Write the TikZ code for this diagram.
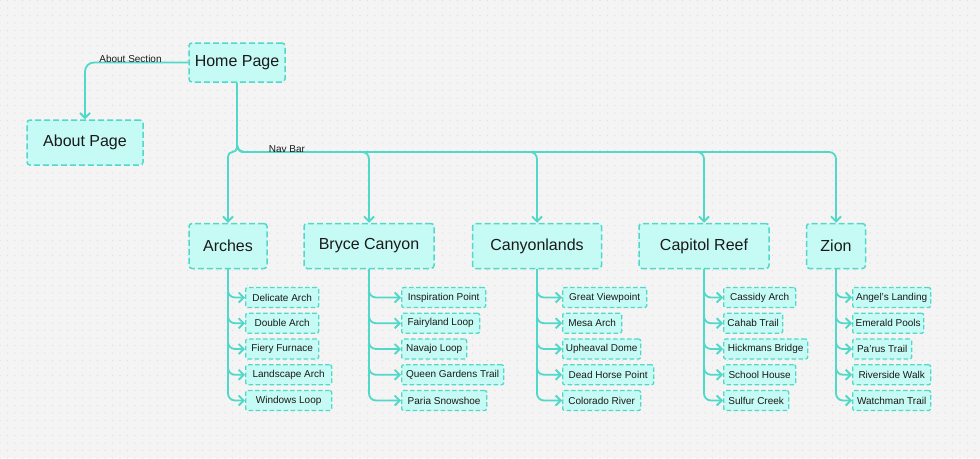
\documentclass[tikz,border=0pt]{standalone}
\usepackage{fontspec}
\setmainfont{Liberation Sans}
\usetikzlibrary{arrows.meta,patterns.meta}
\definecolor{bg}{HTML}{F4F4F4}
\definecolor{dotc}{HTML}{DCDCDC}
\definecolor{teal1}{HTML}{4FD9C8}
\definecolor{boxfill}{HTML}{C6FAF4}
\definecolor{txt}{HTML}{1A1A1A}
\tikzset{
  boxbase/.style={draw=teal1, line width=1.5pt, dash pattern=on 6pt off 3pt, fill=boxfill, rounded corners=3pt, inner sep=0pt, text=txt},
  big/.style={boxbase, font=\fontsize{16}{19}\selectfont},
  leaf/.style={boxbase, line width=1.3pt, dash pattern=on 4.5pt off 2.5pt, rounded corners=2pt, minimum height=20pt, anchor=west, font=\fontsize{10}{12}\selectfont},
  conn/.style={draw=teal1, line width=1.8pt, -{Straight Barb[length=5pt,width=10pt]}},
  lbl/.style={font=\fontsize{10}{12}\selectfont, text=txt, inner sep=0pt},
}
\begin{document}
\begin{tikzpicture}[x=1pt,y=-1pt]
\fill[bg] (0,0) rectangle (980,458);
\fill[pattern={Dots[distance=7.5pt,radius=0.55pt]}, pattern color=dotc] (0,0) rectangle (980,458);
\useasboundingbox (0,0) rectangle (980,458);

% main nodes
\node[big, minimum width=96pt, minimum height=39pt] (home) at (237,62.5) {Home Page};
\node[big, minimum width=116pt, minimum height=45pt] (about) at (85,142.5) {About Page};
\node[big, minimum width=78pt, minimum height=45pt] (arches) at (228,246) {Arches};
\node[big, minimum width=130pt, minimum height=45pt] (bryce) at (369,246) {Bryce Canyon};
\node[big, minimum width=129pt, minimum height=45pt] (canyon) at (537,246) {Canyonlands};
\node[big, minimum width=130pt, minimum height=45pt] (capitol) at (704,246) {Capitol Reef};
\node[big, minimum width=59pt, minimum height=45pt] (zion) at (836,246) {Zion};

\coordinate (nav) at (237,152);

% about connector
\draw[conn, rounded corners=9pt] (home.west) -| (about.north);
\node[lbl] (lblabout) at (130.5,59) {About Section};

% nav connectors
\draw[conn, rounded corners=4.5pt] (home.south) -- (nav) -| (arches.north);
\draw[conn, rounded corners=7pt] (home.south) -- (nav) -| (bryce.north);
\draw[conn, rounded corners=7pt] (home.south) -- (nav) -| (canyon.north);
\draw[conn, rounded corners=7pt] (home.south) -- (nav) -| (capitol.north);
\draw[conn, rounded corners=7pt] (home.south) -- (nav) -| (zion.north);
\node[lbl] (lblnav) at (287,149) {Nav Bar};

% leaves
\foreach \cat/\lx/\names in {
  arches/245/{Delicate Arch/73,Double Arch/73,Fiery Furnace/73,Landscape Arch/86,Windows Loop/86},
  bryce/401/{Inspiration Point/84,Fairyland Loop/78,Navajo Loop/65,Queen Gardens Trail/102,Paria Snowshoe/85},
  canyon/562/{Great Viewpoint/84,Mesa Arch/59,Upheaval Dome/78,Dead Horse Point/91,Colorado River/78},
  capitol/723/{Cassidy Arch/72,Cahab Trail/59,Hickmans Bridge/84,School House/72,Sulfur Creek/65},
  zion/852/{Angel’s Landing/78,Emerald Pools/71,Pa’rus Trail/59,Riverside Walk/78,Watchman Trail/78}}{
  \foreach \nm/\w [count=\i from 0] in \names {
    \node[leaf, minimum width=\w pt] (\cat-\i) at (\lx,297.5+25.75*\i) {\nm};
    \draw[conn, rounded corners=7pt] (\cat.south) |- (\cat-\i.west);
  }
}
\end{tikzpicture}
\end{document}
